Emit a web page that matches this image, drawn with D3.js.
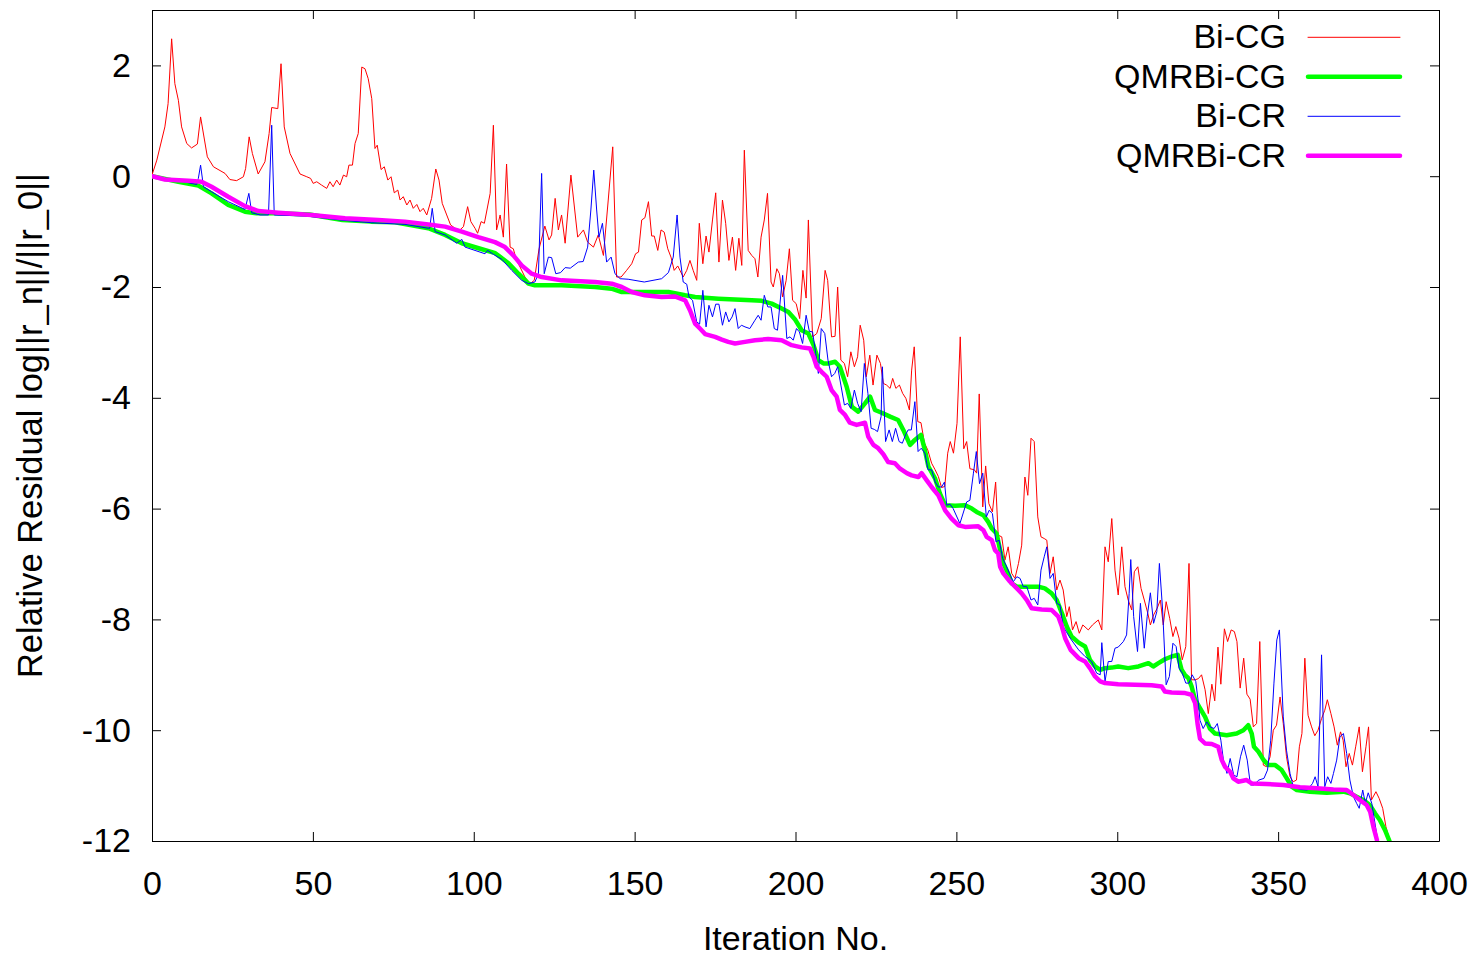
<!DOCTYPE html>
<html lang="en">
<head>
    <meta charset="UTF-8">
    <title>Relative Residual</title>
    <script src="https://d3js.org/d3.v7.min.js"></script>
    <style>
        body {
            margin: 0;
            background: #fff;
        }
        svg {
            display: block;
            font-family: 'Liberation Sans', Arial, sans-serif;
        }
        .axis text {
            font-size: 34px;
            fill: #000;
        }
        .axis path, .axis line {
            stroke: #000;
            stroke-width: 1px;
        }
        .series {
            fill: none;
            stroke-linejoin: round;
            stroke-linecap: round;
        }
    </style>
</head>
<body>
    <svg id="chart" width="1473" height="957"></svg>

    <script>
        // ticks
        const xTicks = [0, 50, 100, 150, 200, 250, 300, 350, 400];
        const yTicks = [-12, -10, -8, -6, -4, -2, 0, 2];

        const seriesNames = ["Bi-CG", "QMRBi-CG", "Bi-CR", "QMRBi-CR"];
        const seriesColors = ["#ff0000", "#00ff00", "#0000ff", "#ff00ff"];
        const seriesWidths = [1, 4.5, 1, 4.5];

        // [iteration, log10 relative residual]
        const bicg = [
            [0,0.02],[1.5,0.29],[4,0.89],[5,1.31],[6.1,2.48],[7.1,1.67],[8.2,1.37],[9.2,0.89],[10.8,0.59],[12.3,0.51],
            [14.1,0.58],[15.1,1.07],[17.2,0.35],[19.1,0.17],[22.7,0.05],[24.2,-0.06],[26.3,-0.08],[28.4,-0.01],[29.1,0.14],[30.2,0.71],
            [31.2,0.41],[33,0.04],[35.1,0.26],[36.4,0.77],[37.2,1.24],[39.1,1.22],[40.1,2.03],[41.1,0.89],[42.9,0.41],[46,0.04],
            [48.1,-0.01],[49.3,-0.04],[50.1,-0.13],[51.2,-0.1],[52.7,-0.16],[54.3,-0.22],[55.3,-0.10],[56.3,-0.19],[57.4,-0.07],[58.4,-0.16],
            [59.5,0.02],[60.5,-0.01],[61.2,0.2],[62.3,0.2],[63.1,0.59],[64.1,0.77],[65.2,1.97],[66.2,1.94],[67.2,1.76],[68.3,1.40],
            [69.3,0.5],[70,0.56],[71.2,0.12],[72.2,0.17],[73.3,-0.07],[74.3,-0.01],[75.3,-0.30],[76.4,-0.25],[77.1,-0.43],[78.1,-0.37],
            [79.2,-0.52],[80.2,-0.43],[81.2,-0.58],[82.3,-0.51],[83.3,-0.64],[84.3,-0.58],[85.4,-0.70],[86.9,-0.40],[88.2,0.13],[89.2,-0.07],
            [90.2,-0.49],[91.6,-0.70],[92.8,-0.88],[94.2,-0.94],[95.7,-0.97],[96.8,-0.91],[98.1,-0.55],[99.1,-0.82],[100.4,-0.94],[101.2,-1.03],
            [102.3,-0.82],[103.3,-0.85],[105.1,-0.31],[106.1,0.92],[107.1,-0.97],[108.2,-0.70],[109.2,-1.10],[110.2,0.22],[111.3,-1.28],[112.3,-1.31],
            [113.3,-1.52],[114.4,-1.64],[115.9,-1.82],[117.5,-1.94],[118.8,-1.88],[120.3,-1.31],[122.1,-0.90],[123.4,-1.15],[124.2,-1.06],[125.3,-0.40],
            [126.3,-0.97],[127.3,-0.70],[128.4,-1.21],[130.2,0.02],[132.3,-1.10],[134.1,-0.97],[135.4,-1.19],[137.2,-1.28],[138.7,-1.06],[140.3,-1.43],
            [141.8,-0.43],[143.2,0.53],[144.4,-1.82],[145.8,-1.82],[147.5,-1.70],[149.1,-1.58],[150.3,-1.40],[151.2,-1.37],[152.2,-0.79],[153.2,-0.75],
            [154.3,-0.46],[155.3,-1.08],[156.1,-1.08],[157.2,-1.34],[158.2,-0.97],[159.2,-1.01],[160.3,-1.31],[161.3,-1.46],[162.3,-1.70],[163.4,-1.62],
            [164.1,-1.70],[165.1,-1.82],[166.2,-1.70],[167.2,-1.52],[168.2,-1.70],[169.3,-1.88],[170.1,-0.85],[171.2,-1.58],[172.2,-1.08],[173.1,-1.37],
            [174.2,-0.79],[175.2,-0.30],[176.2,-1.55],[177.3,-0.43],[178.3,-0.85],[179.3,-1.52],[180.4,-1.10],[181.4,-1.70],[182.4,-1.12],[183.3,-1.61],
            [184.1,0.47],[185.3,-1.34],[186.4,-1.43],[187.4,-1.49],[188.3,-1.82],[189.3,-1.10],[190.3,-0.79],[191.3,-0.31],[192.4,-1.91],[193.1,-2.0],
            [194.2,-1.67],[195,-1.76],[196,-2.18],[197.1,-1.88],[198.1,-1.31],[199.1,-2.24],[200.2,-2.30],[201.3,-2.57],[202.3,-1.70],[203.3,-2.20],
            [204,-0.79],[205.3,-2.90],[206.6,-2.84],[208,-2.57],[209.2,-1.70],[210,-1.88],[211.2,-2.90],[212.3,-2.89],[213.1,-2.0],[214.1,-3.32],
            [215.2,-3.38],[216.2,-3.62],[217.2,-3.17],[218.3,-3.44],[219.3,-3.26],[220.1,-2.69],[221.2,-2.96],[222,-3.62],[223.1,-3.23],[224.1,-3.77],
            [225.3,-3.23],[226.4,-3.38],[227.3,-3.74],[228.3,-3.77],[229.4,-3.83],[230.2,-3.65],[231.2,-3.83],[232.3,-3.77],[233.3,-3.92],[234.3,-4.01],
            [235.4,-4.22],[236.1,-3.50],[236.9,-3.08],[238,-4.43],[239,-4.45],[240.1,-4.82],[241.1,-4.94],[242.3,-5.18],[243.4,-5.30],[244.4,-5.42],
            [245.4,-5.62],[246.4,-5.60],[247.3,-5.0],[248.1,-4.79],[249.1,-5.0],[250.2,-4.46],[251.2,-2.90],[252.3,-4.92],[253.2,-4.79],[254.2,-5.28],
            [255.6,-5.30],[256.3,-5.36],[257.1,-3.93],[258.2,-5.97],[259.1,-5.23],[260.1,-5.91],[261.2,-6.06],[262.2,-5.52],[263,-6.48],[264.1,-6.51],
            [265.1,-6.93],[266.1,-6.69],[267.2,-7.17],[268.2,-7.26],[269.3,-6.99],[270.3,-6.66],[271.3,-5.43],[272.2,-5.76],[273.2,-4.73],[274.2,-4.79],
            [275.3,-6.15],[276.3,-6.51],[277.3,-6.54],[278.1,-6.57],[279.1,-7.17],[280.1,-6.87],[281.2,-7.47],[282.2,-7.29],[283.2,-7.47],[284.3,-7.95],
            [285.1,-7.77],[286.1,-8.19],[287.2,-8.04],[288.2,-8.25],[289.3,-8.10],[291,-8.19],[292.3,-8.10],[294.1,-8.01],[295.2,-8.19],[296.2,-6.69],
            [297.2,-6.96],[298.3,-6.18],[299.3,-7.11],[300.3,-7.56],[301.4,-6.69],[302.4,-7.41],[303.4,-7.65],[304.5,-7.83],[305.3,-7.14],[306.4,-7.05],
            [307.4,-7.44],[308.4,-7.65],[309.5,-7.89],[310.3,-8.10],[311.3,-7.92],[312.4,-7.80],[313.4,-7.65],[314.3,-8.10],[315.2,-7.68],[316.3,-7.98],
            [317.3,-8.31],[318.2,-8.13],[319.2,-8.34],[320.2,-8.73],[321.3,-8.49],[322.3,-6.99],[323.1,-9.09],[324.2,-9.09],[325.2,-9.07],[326.2,-9.0],
            [327.3,-9.27],[328.3,-9.70],[329.4,-9.17],[330.3,-9.47],[331.3,-8.50],[332.2,-9.17],[333.3,-8.17],[334.3,-8.40],[335.4,-8.19],[336.4,-8.22],
            [337.2,-8.40],[338.2,-9.24],[339.3,-8.70],[340.3,-9.35],[341.3,-9.44],[342.3,-9.94],[343.3,-9.88],[344.3,-8.40],[345.4,-10.63],[346.4,-10.66],
            [347.5,-10.48],[348.5,-10.0],[349.5,-9.91],[350.6,-9.40],[351.6,-9.88],[352.6,-10.48],[353.7,-10.84],[354.7,-10.93],[355.7,-10.90],[356.6,-10.30],
            [357.4,-10.06],[358.3,-8.70],[359.3,-9.73],[360.4,-9.94],[361.4,-10.10],[362.4,-10.0],[363.5,-9.79],[364.5,-9.64],[365.3,-9.45],[366.4,-9.70],
            [367.4,-9.94],[368.4,-10.27],[369.4,-10.03],[370.2,-10.18],[371.1,-10.66],[372.1,-10.42],[373.1,-10.63],[374.1,-10.30],[375.2,-9.94],[376.2,-10.75],
            [377.3,-10.30],[378.1,-9.94],[379,-11.26],[380.4,-11.11],[381.4,-11.23],[382.5,-11.41],[383.5,-11.74],[384.6,-11.98]
        ];

        const qmrbicg = [
            [0,0],[8.2,-0.1],[14.4,-0.17],[18.5,-0.31],[23.7,-0.52],[28.9,-0.64],[32.5,-0.67],[38.6,-0.67],[48.9,-0.69],[59.2,-0.79],
            [68,-0.82],[75.5,-0.83],[85.9,-0.94],[91.1,-1.06],[96.3,-1.21],[101.5,-1.30],[106.7,-1.39],[110.8,-1.57],[113.9,-1.76],[117,-1.94],
            [119,-1.97],[127.3,-1.97],[137.7,-2.0],[142.8,-2.03],[146,-2.09],[153,-2.09],[160.5,-2.09],[165.7,-2.15],[168.8,-2.18],[176,-2.21],
            [186.4,-2.24],[189.5,-2.25],[192.6,-2.30],[195.7,-2.39],[197.8,-2.45],[199.8,-2.58],[201.9,-2.78],[204,-2.84],[205.6,-3.05],[207.1,-3.32],
            [208.7,-3.38],[210.2,-3.38],[212.3,-3.35],[213.8,-3.44],[215.9,-3.80],[217.5,-4.16],[219.5,-4.25],[221.6,-4.10],[223.2,-3.98],[224.7,-4.22],
            [226.8,-4.27],[229.4,-4.34],[231.9,-4.40],[233.5,-4.58],[235.6,-4.85],[237.1,-4.76],[239,-4.67],[240.2,-4.94],[241.3,-5.24],[243.4,-5.46],
            [244.9,-5.73],[246.5,-5.94],[249.6,-5.95],[252.7,-5.94],[254.8,-6.0],[256.3,-6.06],[258.4,-6.12],[259.9,-6.24],[261,-6.36],[262.5,-6.45],
            [263.6,-6.75],[264.6,-6.99],[266.1,-7.17],[267.2,-7.35],[268.8,-7.41],[271.3,-7.41],[275.5,-7.41],[277.5,-7.44],[279.6,-7.53],[281.2,-7.65],
            [282.2,-7.80],[283.2,-7.95],[284.3,-8.13],[285.8,-8.31],[288,-8.42],[290,-8.49],[291.5,-8.73],[293.1,-8.85],[294.7,-8.91],[296.2,-8.88],
            [298.3,-8.87],[300.3,-8.85],[303.4,-8.88],[306.6,-8.85],[309.7,-8.79],[311.2,-8.85],[312.8,-8.79],[314.8,-8.72],[316.9,-8.67],[318.8,-8.64],
            [320,-8.91],[321,-9.0],[322.1,-9.06],[323.1,-9.21],[324.2,-9.45],[325.7,-9.60],[327.3,-9.76],[328.8,-9.97],[330.4,-10.06],[334,-10.09],
            [337.1,-10.06],[339.2,-10.0],[340.7,-9.91],[341.8,-10.06],[342.5,-10.30],[343.9,-10.39],[345.5,-10.54],[347,-10.63],[349.1,-10.63],[351.1,-10.72],
            [352.7,-10.87],[354.2,-11.02],[355.8,-11.08],[359.9,-11.11],[365.1,-11.13],[370.3,-11.11],[372.3,-11.14],[374.4,-11.20],[376.5,-11.26],[378.5,-11.35],
            [380.1,-11.50],[381.6,-11.62],[383.2,-11.80],[384.6,-12.0]
        ];

        const bicr = [
            [0,0],[8.2,-0.08],[13.9,-0.15],[14.4,-0.04],[15.1,0.2],[16,-0.19],[18.5,-0.28],[23.7,-0.46],[28.9,-0.60],[30.1,-0.31],
            [31,-0.66],[33.6,-0.70],[36.2,-0.70],[37.2,0.92],[38,-0.70],[48,-0.72],[60,-0.80],[68.3,-0.84],[78.6,-0.87],[85.9,-0.94],
            [86.3,-0.94],[87.1,-0.58],[88,-1.0],[91.1,-1.06],[94.7,-1.21],[96.3,-1.14],[97.3,-1.28],[100.4,-1.34],[103.5,-1.40],[104.3,-1.34],
            [106.1,-1.41],[108.7,-1.50],[111.8,-1.70],[114.9,-1.88],[117,-1.94],[119,-1.91],[120.1,-1.76],[121.1,0.05],[121.9,-1.76],[123.2,-1.46],
            [124.2,-1.47],[125.5,-1.76],[127,-1.74],[128.4,-1.65],[130,-1.66],[132.5,-1.55],[134,-1.54],[135.4,-1.28],[136.4,-0.61],[137.3,0.11],
            [138.2,-0.61],[138.9,-1.10],[140,-0.85],[141.3,-1.55],[142.7,-1.46],[143.9,-1.76],[145.5,-1.85],[148,-1.86],[153,-1.91],[158.4,-1.85],
            [160.5,-1.74],[162,-1.46],[163.2,-0.70],[164.1,-1.46],[165.1,-1.91],[166.2,-1.95],[166.9,-2.18],[168,-2.24],[169.3,-2.63],[170.2,-2.67],
            [171.2,-2.06],[172.2,-2.72],[173.1,-2.33],[174.2,-2.54],[175.2,-2.31],[176.2,-2.31],[177.3,-2.69],[178.3,-2.45],[179.3,-2.63],[180.3,-2.54],
            [181.2,-2.39],[182.2,-2.75],[183.2,-2.69],[184.3,-2.72],[185.8,-2.75],[187.4,-2.60],[188.4,-2.51],[189.3,-2.60],[190.3,-2.15],[191.4,-2.36],
            [192.4,-2.36],[193.4,-2.75],[194.4,-2.78],[196,-1.79],[197.3,-2.93],[198.3,-2.90],[199.3,-2.96],[200.3,-2.75],[201.2,-2.81],[202.2,-3.02],
            [203.3,-2.51],[204.3,-2.80],[205.3,-2.81],[206.3,-3.20],[207.1,-3.56],[208,-2.75],[209.1,-2.84],[210.1,-3.32],[211.2,-3.62],[212.2,-3.56],
            [213.1,-3.44],[214.1,-3.77],[215.2,-4.13],[216.2,-4.10],[217.2,-4.19],[218.3,-3.86],[219.3,-4.10],[220.4,-4.25],[221.4,-3.38],[222.5,-3.92],
            [223.5,-4.55],[224.5,-4.57],[225.5,-4.61],[226.6,-4.34],[227,-3.44],[228,-4.79],[229.1,-4.58],[230.1,-4.79],[231.1,-4.55],[232.2,-4.79],
            [233.2,-4.82],[234.2,-4.67],[235,-4.58],[236,-4.58],[237.1,-4.07],[238.1,-4.97],[239.1,-4.91],[240.2,-5.0],[241.2,-5.30],[242.3,-5.30],
            [243.4,-5.52],[244.4,-5.61],[245.4,-5.61],[246.3,-5.52],[247,-5.94],[248,-5.92],[249,-6.0],[251.1,-6.27],[253.2,-5.88],[254.2,-5.85],
            [255.3,-5.36],[256.2,-4.97],[257.2,-5.55],[258.2,-5.36],[259.3,-6.15],[260.2,-6.03],[261.2,-6.09],[262.3,-6.60],[263.3,-6.57],[264.4,-6.90],
            [265.4,-7.02],[266.5,-7.17],[267.7,-7.32],[268.8,-7.23],[269.8,-7.26],[270.8,-7.41],[271.9,-7.41],[273.2,-7.65],[274.2,-7.62],[275.3,-7.74],
            [276.3,-7.11],[277.3,-6.87],[278.1,-6.69],[279.1,-7.26],[280.1,-7.17],[281.2,-7.71],[282.2,-7.74],[283.2,-8.13],[285.5,-8.35],[288,-8.55],
            [290,-8.67],[292,-8.76],[293.6,-8.97],[294.7,-9.0],[295.2,-8.42],[296.2,-9.12],[297.2,-8.76],[298.3,-8.76],[299.3,-8.52],[300.3,-8.50],
            [301.9,-8.40],[302.9,-8.28],[303.7,-7.53],[304.2,-6.92],[305.1,-7.95],[306.3,-8.58],[307.2,-7.71],[308.4,-8.52],[309.3,-7.95],[310.3,-7.52],
            [311.3,-8.07],[312.3,-7.86],[313.1,-6.99],[314.1,-7.83],[315.2,-9.18],[316.2,-9.03],[317.3,-8.43],[318.3,-8.49],[319.2,-8.88],[320.2,-8.97],
            [321.3,-9.15],[322.3,-9.15],[323.3,-9.0],[324.4,-9.12],[325.2,-9.5],[325.7,-9.82],[326.7,-9.97],[327.8,-9.85],[328.9,-9.94],[330.1,-9.97],
            [331.1,-9.88],[332.2,-10.18],[333,-10.54],[334.1,-10.78],[335.1,-10.51],[336.2,-10.81],[337.2,-10.84],[338.3,-10.48],[339.3,-10.27],[340.4,-10.54],
            [341.4,-10.99],[342.4,-10.99],[344,-10.90],[345.6,-10.87],[346.7,-10.72],[347.7,-10.18],[348.7,-9.15],[349.6,-8.37],[350.4,-8.19],[351.6,-9.76],
            [352.6,-10.36],[353.7,-10.78],[354.7,-11.02],[357,-11.07],[359.1,-11.08],[360.7,-10.96],[361.5,-10.84],[362.4,-11.02],[363.5,-8.64],[364.5,-11.02],
            [365.4,-10.84],[366.4,-10.96],[367.2,-10.78],[368.2,-10.54],[369.2,-10.12],[370.3,-10.06],[371.3,-10.42],[372.3,-10.90],[373.4,-11.20],[374.4,-11.32],
            [375.2,-11.41],[376.3,-11.08],[377.1,-11.32],[378,-11.13],[379.1,-11.32],[380.6,-11.86],[381,-12.0]
        ];

        const qmrbicr = [
            [0,0],[4,-0.06],[11.3,-0.08],[15.4,-0.10],[18.5,-0.19],[23.7,-0.37],[28.9,-0.54],[33,-0.63],[39.3,-0.66],[49.6,-0.70],
            [60,-0.76],[70.3,-0.79],[78.6,-0.82],[85.9,-0.87],[91.1,-0.91],[96.3,-1.0],[101.4,-1.10],[106.6,-1.19],[109.7,-1.28],[112.3,-1.43],
            [114.9,-1.61],[118,-1.76],[121.1,-1.82],[127.3,-1.88],[137.7,-1.91],[142.9,-1.94],[146,-2.0],[149.1,-2.09],[153.2,-2.15],[158.4,-2.18],
            [162.5,-2.17],[165.7,-2.24],[167.2,-2.42],[168.8,-2.66],[170.3,-2.75],[171.9,-2.85],[175,-2.90],[177.1,-2.95],[179.1,-2.99],[181.2,-3.02],
            [184.3,-2.99],[187.4,-2.96],[191.5,-2.94],[195.7,-2.96],[198.8,-3.05],[201.9,-3.09],[204.5,-3.11],[205.6,-3.26],[206.6,-3.44],[208.1,-3.53],
            [209.7,-3.62],[211.2,-3.86],[212.8,-3.98],[213.8,-4.22],[215.4,-4.31],[216.9,-4.45],[219,-4.49],[221.6,-4.45],[222.6,-4.70],[224.2,-4.85],
            [225.7,-4.91],[227.3,-5.02],[228.8,-5.16],[230.9,-5.18],[232.5,-5.28],[234.6,-5.36],[236.1,-5.40],[238.2,-5.43],[239.2,-5.36],[240.8,-5.49],
            [242.3,-5.61],[244.4,-5.76],[246.5,-6.03],[248.5,-6.18],[250.6,-6.30],[252.7,-6.33],[256.8,-6.32],[258.4,-6.39],[259.4,-6.51],[261,-6.57],
            [262,-6.75],[263,-6.81],[263.6,-7.05],[264.6,-7.17],[266.7,-7.32],[268.8,-7.44],[270.3,-7.53],[271.9,-7.65],[273.4,-7.80],[276.5,-7.82],
            [279.6,-7.83],[281.7,-7.95],[282.8,-8.13],[283.8,-8.34],[285.5,-8.55],[288,-8.70],[290,-8.76],[291.5,-8.88],[293.1,-9.03],[294.7,-9.12],
            [296.2,-9.15],[300.3,-9.17],[305.5,-9.18],[310.7,-9.19],[313.8,-9.21],[314.8,-9.30],[316.9,-9.32],[321.1,-9.33],[323.1,-9.36],[324.2,-9.51],
            [325,-9.9],[325.7,-10.15],[327.3,-10.24],[329.4,-10.25],[331.4,-10.30],[332.5,-10.54],[333.5,-10.66],[335.1,-10.75],[336.1,-10.87],[337.6,-10.93],
            [340.2,-10.90],[341.8,-10.96],[346.4,-10.97],[351.6,-10.99],[356.8,-11.03],[362,-11.05],[367.2,-11.07],[371.3,-11.08],[373.4,-11.17],[375.4,-11.26],
            [377.5,-11.35],[378.6,-11.47],[379.6,-11.74],[380.7,-11.98]
        ];

        const seriesData = [bicg, qmrbicg, bicr, qmrbicr];

        const plotLeft = 152, plotRight = 1439, plotTop = 10, plotBottom = 841;
        const svg = d3.select("#chart");

        const x = d3.scaleLinear().domain([0, 400]).range([plotLeft, plotRight]);
        const y = d3.scaleLinear().domain([-12, 3]).range([plotBottom, plotTop]);

        svg.append("defs").append("clipPath").attr("id", "plotClip")
            .append("rect")
            .attr("x", plotLeft).attr("y", plotTop)
            .attr("width", plotRight - plotLeft).attr("height", plotBottom - plotTop);

        // plain hyphen minus, like gnuplot
        const plainFormat = d => String(d);

        // axes with inward ticks on all four sides (gnuplot look)
        svg.append("g").attr("class", "axis")
            .attr("transform", `translate(0,${plotBottom})`)
            .call(d3.axisBottom(x).tickValues(xTicks).tickSize(-9).tickSizeOuter(0).tickPadding(30).tickFormat(plainFormat));
        svg.append("g").attr("class", "axis")
            .attr("transform", `translate(0,${plotTop})`)
            .call(d3.axisTop(x).tickValues(xTicks).tickSize(-9).tickSizeOuter(0).tickFormat(""));
        svg.append("g").attr("class", "axis")
            .attr("transform", `translate(${plotLeft},0)`)
            .call(d3.axisLeft(y).tickValues(yTicks).tickSize(-9).tickSizeOuter(0).tickPadding(21).tickFormat(plainFormat));
        svg.append("g").attr("class", "axis")
            .attr("transform", `translate(${plotRight},0)`)
            .call(d3.axisRight(y).tickValues(yTicks).tickSize(-9).tickSizeOuter(0).tickFormat(""));

        svg.selectAll(".axis .domain").attr("stroke-width", 1.3);

        // series
        const line = d3.line().x(d => x(d[0])).y(d => y(d[1]));
        const plot = svg.append("g").attr("clip-path", "url(#plotClip)");
        seriesData.forEach((data, i) => {
            plot.append("path")
                .datum(data)
                .attr("class", "series")
                .attr("stroke", seriesColors[i])
                .attr("stroke-width", seriesWidths[i])
                .attr("d", line);
        });

        // legend
        const legend = svg.append("g");
        seriesNames.forEach((name, i) => {
            const ly = 37.3 + i * 39.5;
            legend.append("text")
                .attr("x", 1286).attr("y", ly + 11)
                .attr("text-anchor", "end")
                .style("font-size", "34px")
                .text(name);
            legend.append("line")
                .attr("x1", 1308).attr("x2", 1400)
                .attr("y1", ly).attr("y2", ly)
                .attr("stroke", seriesColors[i])
                .attr("stroke-width", seriesWidths[i])
                .attr("stroke-linecap", "round");
        });

        // axis titles
        svg.append("text")
            .attr("x", (plotLeft + plotRight) / 2).attr("y", 950)
            .attr("text-anchor", "middle")
            .style("font-size", "34px")
            .text("Iteration No.");
        svg.append("text")
            .attr("transform", `translate(42,${(plotTop + plotBottom) / 2}) rotate(-90)`)
            .attr("text-anchor", "middle")
            .style("font-size", "34.5px")
            .text("Relative Residual log||r_n||/||r_0||");
    </script>
</body>
</html>
